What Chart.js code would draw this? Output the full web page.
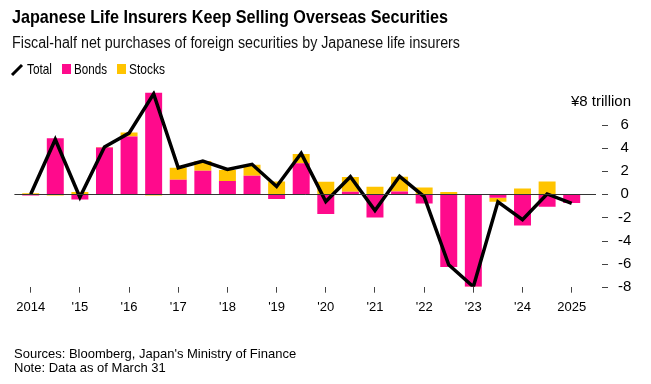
<!DOCTYPE html>
<html>
<head>
<meta charset="utf-8">
<script src="https://cdn.jsdelivr.net/npm/chart.js@4.4.0/dist/chart.umd.min.js"></script>
<style>
body{margin:0;background:#fff;width:651px;height:384px;overflow:hidden;position:relative;font-family:"Liberation Sans",Arial,sans-serif;color:#000;}
#chart{position:absolute;left:0;top:0;}
.txt{position:absolute;white-space:nowrap;transform-origin:0 0;}
#title{left:12px;top:7px;font:bold 19px/19px "Liberation Sans Narrow","Liberation Sans",sans-serif;}
#sub{left:12px;top:35px;font:16px/16px "Liberation Sans Narrow","Liberation Sans",sans-serif;color:#111;}
.leg{top:61px;font:15px/15px "Liberation Sans Narrow","Liberation Sans",sans-serif;}
.sq{position:absolute;top:64px;width:9px;height:10px;}
#foot{left:14px;top:347px;font:13px/13.5px "Liberation Sans",Arial,sans-serif;}
</style>
</head>
<body>
<canvas id="chart" width="651" height="384"></canvas>
<div class="txt" id="title" data-w="436">Japanese Life Insurers Keep Selling Overseas Securities</div>
<div class="txt" id="sub" data-w="448">Fiscal-half net purchases of foreign securities by Japanese life insurers</div>
<svg style="position:absolute;left:10px;top:63px" width="14" height="14"><line x1="2" y1="12" x2="12" y2="2" stroke="#000" stroke-width="3"/></svg>
<div class="txt leg" style="left:27px" data-w="25">Total</div>
<div class="sq" style="left:62px;background:#ff0a8c"></div>
<div class="txt leg" style="left:74px" data-w="33">Bonds</div>
<div class="sq" style="left:117px;background:#ffc400"></div>
<div class="txt leg" style="left:129px" data-w="36">Stocks</div>
<div class="txt" id="foot">Sources: Bloomberg, Japan's Ministry of Finance<br>Note: Data as of March 31</div>
<script>
// fiscal halves, first half of each fiscal year gets the year label
var halves = ['2014 H1','2014 H2','2015 H1','2015 H2','2016 H1','2016 H2','2017 H1','2017 H2',
  '2018 H1','2018 H2','2019 H1','2019 H2','2020 H1','2020 H2','2021 H1','2021 H2',
  '2022 H1','2022 H2','2023 H1','2023 H2','2024 H1','2024 H2','2025 H1'];
var yearLabels = ['2014',"'15","'16","'17","'18","'19","'20","'21","'22","'23","'24",'2025'];
var bonds  = [-0.1, 4.85, -0.45, 4.05, 5.0, 8.8, 1.27, 2.05, 1.15, 1.6, -0.4, 2.7, -1.7, 0.22, -2.0, 0.25, -0.8, -6.3, -8.0, -0.3, -2.7, -1.07, -0.75];
var stocks = [0.1, -0.1, 0.2, 0.05, 0.35, -0.1, 1.03, 0.83, 0.95, 0.97, 1.12, 0.8, 1.08, 1.28, 0.65, 1.28, 0.6, 0.2, -0.05, -0.35, 0.5, 1.1, 0];
var total  = [0, 4.75, -0.25, 4.1, 5.3, 8.7, 2.3, 2.88, 2.16, 2.6, 0.68, 3.55, -0.62, 1.52, -1.4, 1.56, -0.2, -6.1, -8.0, -0.65, -2.2, 0.03, -0.78];
var yTicks = [-8,-6,-4,-2,0,2,4,6,8];

// squeeze the narrow headline texts to the width they have in the picture
document.querySelectorAll('[data-w]').forEach(function(el){
  var w = el.getBoundingClientRect().width;
  el.style.transform = 'scaleX(' + (el.dataset.w / w) + ')';
});

Chart.defaults.font.family = '"Liberation Sans", Arial, sans-serif';
Chart.defaults.color = '#000';

var extras = {
  id: 'extras',
  afterDatasetsDraw: function(chart){
    var ctx = chart.ctx, ca = chart.chartArea, y = chart.scales.y;
    ctx.save();
    var y0 = Math.round(y.getPixelForValue(0)) + 0.5;
    ctx.strokeStyle = '#333';
    ctx.lineWidth = 1;
    ctx.beginPath();
    ctx.moveTo(ca.left - 4, y0);
    ctx.lineTo(ca.right + 12, y0);
    ctx.stroke();
    ctx.restore();
  },
  afterDraw: function(chart){
    var ctx = chart.ctx, ca = chart.chartArea, y = chart.scales.y;
    ctx.save();
    ctx.strokeStyle = '#444';
    ctx.lineWidth = 1;
    ctx.beginPath();
    yTicks.forEach(function(v){
      if (v === 8) return;
      var py = Math.round(y.getPixelForValue(v)) + 0.5;
      ctx.moveTo(ca.right + 18, py);
      ctx.lineTo(ca.right + 24, py);
    });
    ctx.stroke();
    ctx.fillStyle = '#000';
    ctx.font = '15px "Liberation Sans", Arial, sans-serif';
    ctx.textAlign = 'right';
    ctx.textBaseline = 'middle';
    ctx.fillText('\u00a58 trillion', ca.right + 47, y.getPixelForValue(8));
    ctx.restore();
  }
};

new Chart(document.getElementById('chart'), {
  type: 'bar',
  data: {
    labels: halves,
    datasets: [
      {type: 'line', label: 'Total', data: total, stack: 'line', order: 0,
       borderColor: '#000', borderWidth: 3.5, pointRadius: 0, tension: 0,
       borderJoinStyle: 'miter', fill: false},
      {label: 'Bonds', data: bonds, stack: 'flows', order: 1, backgroundColor: '#ff0a8c',
       barPercentage: 0.69, categoryPercentage: 1},
      {label: 'Stocks', data: stocks, stack: 'flows', order: 1, backgroundColor: '#ffc400',
       barPercentage: 0.69, categoryPercentage: 1}
    ]
  },
  options: {
    responsive: false,
    animation: false,
    devicePixelRatio: 1,
    layout: {padding: {left: 18.4, top: 90.4, right: 0, bottom: 0}},
    plugins: {legend: {display: false}, tooltip: {enabled: false}},
    scales: {
      x: {
        stacked: true,
        offset: true,
        border: {display: false},
        grid: {offset: false, drawOnChartArea: false, drawTicks: true, tickLength: 6,
          color: function(c){ return c.index % 2 === 0 ? '#444' : 'rgba(0,0,0,0)'; }},
        ticks: {autoSkip: false, maxRotation: 0, padding: 7, font: {size: 13},
          callback: function(v, i){ return i % 2 === 0 ? yearLabels[i / 2] : ''; }},
        afterFit: function(s){ s.height = 97.3; }
      },
      y: {
        position: 'right',
        stacked: true,
        min: -8,
        max: 9,
        afterBuildTicks: function(s){ s.ticks = yTicks.map(function(v){ return {value: v}; }); },
        border: {display: false},
        grid: {display: false},
        ticks: {crossAlign: 'center', padding: 26, font: {size: 15},
          callback: function(v){ return v === 8 ? '' : String(v); }},
        afterFit: function(s){ s.width = 67; }
      }
    }
  },
  plugins: [extras]
});
</script>
</body>
</html>
